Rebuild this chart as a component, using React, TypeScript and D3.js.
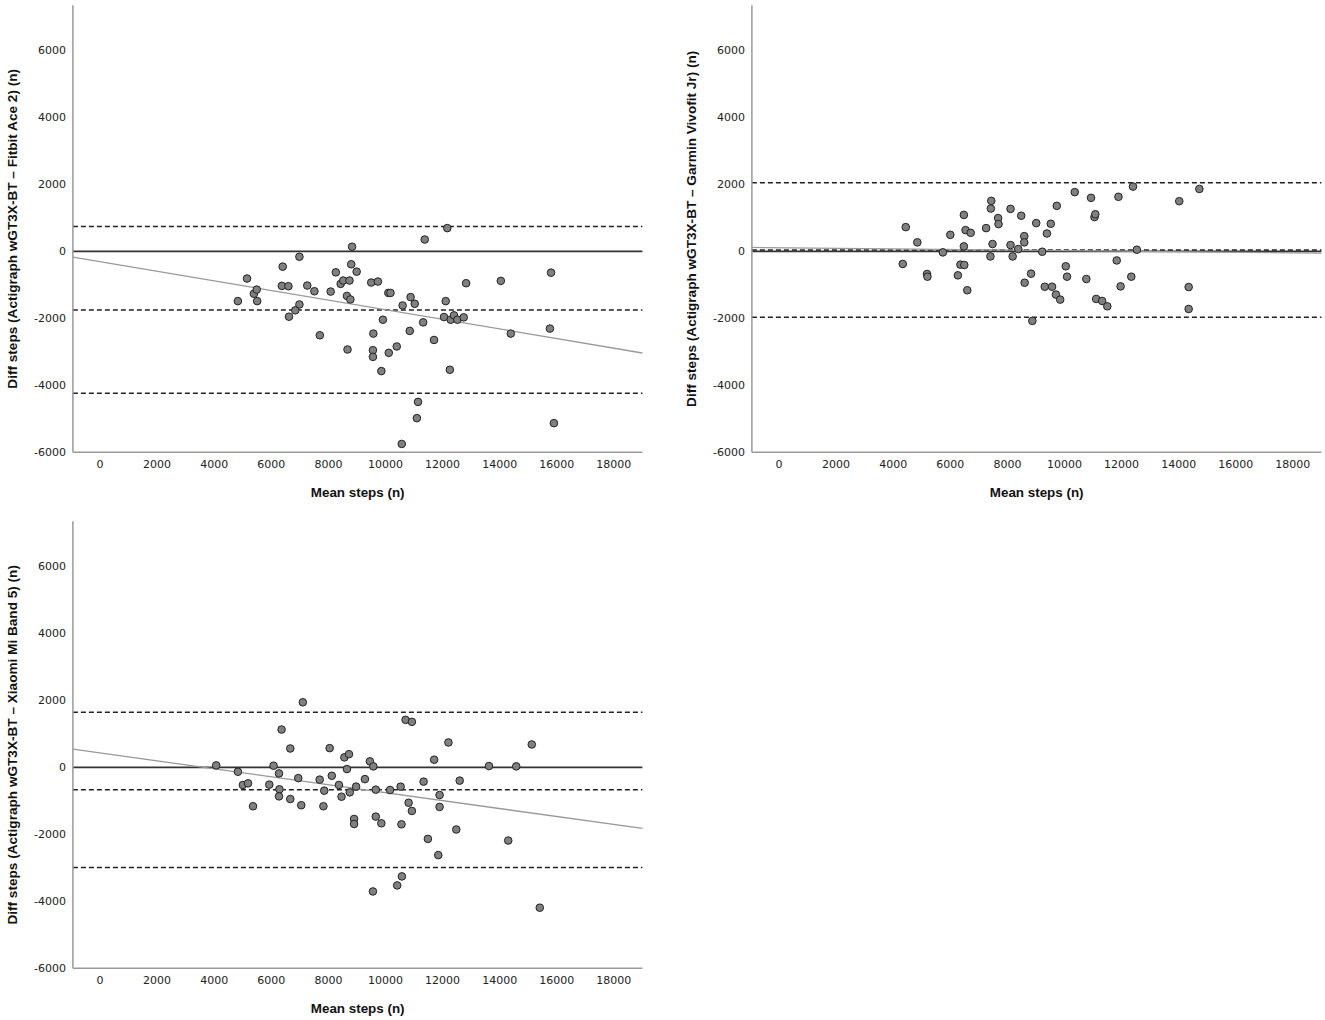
import { scaleLinear } from "d3";

// Bland-Altman: Actigraph wGT3X-BT vs three consumer trackers
const xTicks = [0, 2000, 4000, 6000, 8000, 10000, 12000, 14000, 16000, 18000];
const yTicks = [6000, 4000, 2000, 0, -2000, -4000, -6000];

// [mean steps, difference]
const fitbitPoints = [
  [4830, -1485], [5150, -810], [5390, -1265], [5490, -1140], [5505, -1485],
  [6370, -1030], [6400, -455], [6600, -1040], [6620, -1950], [6840, -1760],
  [6985, -160], [6985, -1585], [7260, -1020], [7510, -1190], [7700, -2505],
  [8080, -1200], [8260, -625], [8430, -970], [8520, -870], [8650, -1330],
  [8670, -2930], [8740, -870], [8770, -1435], [8800, -385], [8830, 140],
  [8990, -605], [9500, -930], [9575, -2455], [9560, -2950], [9560, -3150],
  [9735, -900], [9855, -3575], [9910, -2040], [10100, -1240], [10175, -1240],
  [10115, -3030], [10395, -2840], [10570, -5750], [10600, -1615], [10850, -2375],
  [10880, -1365], [11025, -1565], [11100, -4980], [11140, -4495], [11320, -2120],
  [11375, 355], [11700, -2645], [12050, -1960], [12110, -1485], [12165, 695],
  [12255, -3535], [12285, -2040], [12400, -1910], [12520, -2040], [12740, -1970],
  [12825, -950], [14040, -880], [14390, -2455], [15760, -2305], [15800, -635],
  [15900, -5130],
];

const garminPoints = [
  [4335, -375], [4440, 725], [4845, 270], [5185, -675], [5200, -755],
  [5740, -30], [6000, 495], [6265, -715], [6355, -395], [6475, 1090],
  [6475, 150], [6490, -405], [6535, 635], [6595, -1160], [6715, 555],
  [7255, 695], [7405, -150], [7435, 1510], [7420, 1280], [7480, 220],
  [7675, 995], [7690, 815], [8110, 1270], [8110, 190], [8185, -150],
  [8380, 70], [8485, 1065], [8590, 455], [8590, 270], [8605, -935],
  [8830, -665], [8875, -2075], [9010, 845], [9220, -10], [9310, -1055],
  [9385, 535], [9520, 825], [9565, -1055], [9700, -1290], [9730, 1360],
  [9850, -1440], [10045, -445], [10090, -755], [10360, 1770], [10765, -825],
  [10930, 1600], [11050, 1025], [11080, 1110], [11110, -1420], [11320, -1480],
  [11500, -1640], [11830, -270], [11890, 1630], [11965, -1045], [12340, -755],
  [12400, 1935], [12535, 50], [14020, 1500], [14350, -1065], [14350, -1720],
  [14725, 1865],
];

const xiaomiPoints = [
  [4070, 60], [4830, -130], [5005, -525], [5185, -475], [5360, -1160],
  [5930, -515], [6080, 50], [6270, -180], [6285, -655], [6270, -865],
  [6360, 1130], [6665, -945], [6665, 565], [6945, -320], [7050, -1130],
  [7105, 1945], [7695, -365], [7825, -1160], [7855, -695], [8045, 575],
  [8120, -250], [8370, -525], [8460, -875], [8560, 300], [8650, -50],
  [8720, 395], [8750, -745], [8900, -1540], [8900, -1690], [8970, -575],
  [9280, -350], [9455, 180], [9575, 30], [9660, -665], [9660, -1470],
  [9855, -1670], [9560, -3705], [10160, -675], [10410, -3525], [10530, -575],
  [10560, -1700], [10575, -3255], [10705, 1420], [10810, -1055], [10925, 1360],
  [10925, -1300], [11335, -425], [11485, -2135], [11705, 230], [11895, -825],
  [11895, -1180], [11850, -2620], [12205, 745], [12480, -1855], [12600, -395],
  [13625, 40], [14300, -2185], [14580, 30], [15125, 685], [15405, -4190],
];

// limits of agreement: [upper, mean, lower]
const fitbitLoA = [740, -1750, -4240];
const garminLoA = [2050, 40, -1970];
const xiaomiLoA = [1650, -670, -2990];

// proportional bias regression: [intercept, slope]
const fitbitFit = [-306, -0.1436];
const garminFit = [110, -0.0085];
const xiaomiFit = [432, -0.1187];

const panels = [
  { label: "Diff steps (Actigraph wGT3X-BT \u2013 Fitbit Ace 2) (n)", points: fitbitPoints, loa: fitbitLoA, fit: fitbitFit, left: 72.9, top: 5.3 },
  { label: "Diff steps (Actigraph wGT3X-BT \u2013 Garmin Vivofit Jr) (n)", points: garminPoints, loa: garminLoA, fit: garminFit, left: 751.9, top: 5.3 },
  { label: "Diff steps (Actigraph wGT3X-BT \u2013 Xiaomi Mi Band 5) (n)", points: xiaomiPoints, loa: xiaomiLoA, fit: xiaomiFit, left: 72.9, top: 521.3 },
];

const W = 569.5;
const H = 447;
const tickFont = "'DejaVu Sans', sans-serif";
const titleFont = "'Liberation Sans', Arial, sans-serif";

function Panel({ p }: { p: (typeof panels)[number] }) {
  const x = scaleLinear().domain([-950, 19000]).range([0, W]);
  const y = scaleLinear().domain([-6000, 7350]).range([H, 0]);
  const [x0, x1] = x.domain();
  const [b, m] = p.fit;
  const [upper, mean, lower] = p.loa;

  return (
    <g transform={`translate(${p.left},${p.top})`}>
      {/* y tick labels */}
      {yTicks.map((t) => (
        <text
          key={t}
          x={-7}
          y={y(t)}
          dy="0.35em"
          textAnchor="end"
          fontFamily={tickFont}
          fontSize={11}
          fill="#222"
        >
          {t}
        </text>
      ))}
      {/* x tick labels */}
      {xTicks.map((t) => (
        <text
          key={t}
          x={x(t)}
          y={H + 12}
          dy="0.35em"
          textAnchor="middle"
          fontFamily={tickFont}
          fontSize={11}
          fill="#222"
        >
          {t}
        </text>
      ))}

      {/* axis titles */}
      <text
        transform={`translate(${-60.5},${H / 2}) rotate(-90)`}
        textAnchor="middle"
        dy="0.35em"
        fontFamily={titleFont}
        fontWeight="bold"
        fontSize={13.6}
        fill="#111"
      >
        {p.label}
      </text>
      <text
        x={W / 2}
        y={H + 40}
        dy="0.35em"
        textAnchor="middle"
        fontFamily={titleFont}
        fontWeight="bold"
        fontSize={13.4}
        fill="#111"
      >
        Mean steps (n)
      </text>

      {/* zero reference */}
      <line x1={0} x2={W} y1={y(0)} y2={y(0)} stroke="#333" strokeWidth={1.6} />

      {/* limits of agreement */}
      {[upper, mean, lower].map((v, i) => (
        <line
          key={i}
          x1={0}
          x2={W}
          y1={y(v)}
          y2={y(v)}
          stroke="#222"
          strokeWidth={1.5}
          strokeDasharray="5,3"
        />
      ))}

      {/* regression line */}
      <line
        x1={x(x0)}
        x2={x(x1)}
        y1={y(b + m * x0)}
        y2={y(b + m * x1)}
        stroke="#999"
        strokeWidth={1.3}
      />

      {/* points */}
      {p.points.map(([mx, dy], i) => (
        <circle key={i} cx={x(mx)} cy={y(dy)} r={3.8} fill="#808080" stroke="#222" strokeWidth={1} />
      ))}

      {/* axes */}
      <line x1={0} x2={0} y1={0} y2={H} stroke="#999" strokeWidth={1.5} />
      <line x1={0} x2={W} y1={H} y2={H} stroke="#999" strokeWidth={1.5} />
    </g>
  );
}

export default function App() {
  return (
    <div style={{ position: "absolute", left: 0, top: 0, background: "#fff" }}>
      <svg width={1325} height={1020} style={{ display: "block" }}>
        <rect width={1325} height={1020} fill="#fff" />
        {panels.map((p, i) => (
          <Panel key={i} p={p} />
        ))}
      </svg>
    </div>
  );
}
